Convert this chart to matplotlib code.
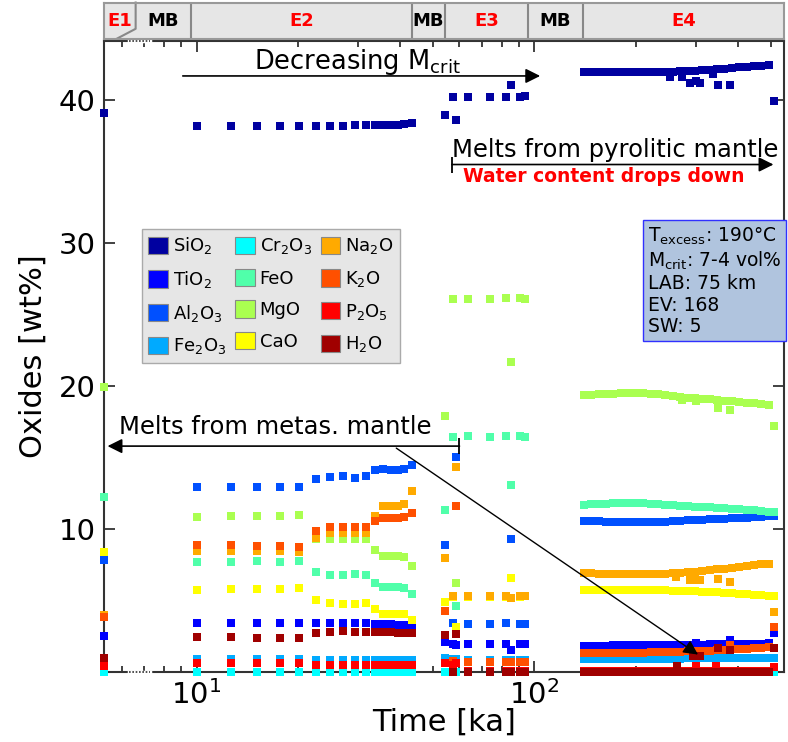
import matplotlib.pyplot as plt
from matplotlib.patches import Patch

# oxide names and colours (plot order = legend order)
oxides = ['SiO$_2$', 'TiO$_2$', 'Al$_2$O$_3$', 'Fe$_2$O$_3$', 'Cr$_2$O$_3$', 'FeO',
          'MgO', 'CaO', 'Na$_2$O', 'K$_2$O', 'P$_2$O$_5$', 'H$_2$O']
colors = ['#0000a0', '#0000ff', '#0050ff', '#00aaff', '#00ffff', '#50ffaa',
          '#aaff50', '#ffff00', '#ffaa00', '#ff5000', '#ff0000', '#a00000']

# episode bar on top
episodes = ['E1', 'MB', 'E2', 'MB', 'E3', 'MB', 'E4']
episode_edges = [5.32, 6.6, 9.63, 43.4, 54.2, 95.7, 139.0, 548.0]

# times [ka]: E1 (1), E2 (16), E3 (9)
t_early = [5.32,
           10.0, 12.6, 15.1, 17.6, 20.1, 22.6, 24.8, 27.2, 29.5, 31.7, 33.8, 35.7, 37.6, 39.4, 41.2, 43.4,
           54.5, 57.3, 58.6, 63.5, 74.0, 82.4, 85.3, 90.7, 93.8]
# times [ka]: E4 main sequence
t_late = [140, 147, 155, 163, 171, 180, 190, 200, 210, 221, 232, 244, 257,
          270, 284, 299, 314, 330, 347, 365, 384, 404, 425, 447, 470, 495]

sio2_early = [39.1,
              38.15, 38.15, 38.15, 38.15, 38.15, 38.15, 38.15, 38.15, 38.2, 38.2, 38.2, 38.25, 38.25, 38.25, 38.3, 38.35,
              38.9, 40.2, 38.55, 40.2, 40.2, 40.2, 41.0, 40.2, 40.25]
tio2_early = [2.5,
              3.41, 3.41, 3.41, 3.41, 3.41, 3.41, 3.41, 3.41, 3.41, 3.41, 3.33, 3.33, 3.33, 3.3, 3.3, 3.22,
              2.1, 1.95, 1.9, 1.95, 1.95, 1.97, 1.55, 1.95, 1.95]
al2o3_early = [7.8,
               12.92, 12.92, 12.9, 12.95, 12.95, 13.46, 13.62, 13.67, 13.56, 13.7, 14.1, 14.21, 14.15, 14.14, 14.21, 14.49,
               8.9, 3.4, 15.0, 3.35, 3.35, 3.4, 9.3, 3.33, 3.33]
fe2o3_early = [0.8,
               0.92, 0.92, 0.92, 0.92, 0.92, 0.85, 0.85, 0.85, 0.85, 0.85, 0.85, 0.85, 0.85, 0.85, 0.85, 0.85,
               1.0, 0.9, 0.9, 0.85, 0.85, 0.85, 0.85, 0.85, 0.85]
cr2o3_early = [0.0,
               0.0, 0.0, 0.0, 0.0, 0.0, 0.0, 0.0, 0.0, 0.0, 0.0, 0.0, 0.0, 0.0, 0.0, 0.0, 0.0,
               0.0, 0.0, 0.0, 0.0, 0.0, 0.0, 0.0, 0.0, 0.0]
feo_early = [12.2,
             7.68, 7.72, 7.77, 7.72, 7.79, 6.98, 6.8, 6.78, 6.82, 6.78, 6.23, 5.93, 5.93, 5.93, 5.88, 5.44,
             11.3, 16.45, 4.6, 16.5, 16.45, 16.5, 13.1, 16.5, 16.45]
mgo_early = [19.9,
             10.83, 10.87, 10.92, 10.92, 10.97, 9.31, 9.31, 9.31, 9.31, 9.27, 8.5, 8.08, 8.08, 8.08, 8.03, 7.38,
             17.9, 26.1, 6.25, 26.1, 26.1, 26.15, 21.7, 26.15, 26.1]
cao_early = [8.4,
             5.75, 5.77, 5.8, 5.8, 5.88, 5.0, 4.81, 4.76, 4.76, 4.81, 4.39, 4.06, 4.06, 4.06, 4.06, 3.64,
             4.9, 5.25, 3.15, 5.25, 5.25, 5.25, 6.6, 5.25, 5.3]
na2o_early = [4.0,
              8.45, 8.45, 8.45, 8.45, 8.4, 9.38, 9.7, 9.7, 9.7, 9.7, 10.87, 11.57, 11.57, 11.57, 11.71, 12.62,
              8.0, 5.3, 14.3, 5.3, 5.3, 5.3, 5.2, 5.28, 5.32]
k2o_early = [3.85,
             8.89, 8.85, 8.78, 8.78, 8.74, 9.85, 10.13, 10.13, 10.13, 10.13, 10.53, 10.76, 10.76, 10.76, 10.83, 11.1,
             4.3, 0.75, 11.6, 0.7, 0.7, 0.7, 0.7, 0.7, 0.7]
p2o5_early = [0.45,
              0.6, 0.6, 0.6, 0.6, 0.6, 0.5, 0.5, 0.5, 0.5, 0.5, 0.5, 0.5, 0.5, 0.5, 0.5, 0.5,
              0.6, 0.5, 0.6, 0.05, 0.05, 0.05, 0.05, 0.05, 0.05]
h2o_early = [1.0,
             2.43, 2.43, 2.4, 2.4, 2.4, 2.72, 2.79, 2.84, 2.79, 2.79, 2.79, 2.79, 2.79, 2.75, 2.72, 2.72,
             2.6, 0.02, 2.65, 0.02, 0.02, 0.02, 0.02, 0.02, 0.02]

sio2_late = [41.92, 41.92, 41.92, 41.92, 41.93, 41.93, 41.93, 41.94, 41.94, 41.95, 41.95, 41.96, 41.97,
             41.99, 42.01, 42.04, 42.07, 42.1, 42.14, 42.18, 42.22, 42.26, 42.3, 42.34, 42.38, 42.41]
tio2_late = [1.85, 1.85, 1.85, 1.85, 1.86, 1.86, 1.86, 1.87, 1.87, 1.87, 1.88, 1.88, 1.89,
             1.9, 1.9, 1.91, 1.92, 1.93, 1.94, 1.95, 1.96, 1.96, 1.97, 1.98, 1.99, 2.0]
al2o3_late = [10.56, 10.55, 10.53, 10.52, 10.51, 10.5, 10.49, 10.48, 10.48, 10.49, 10.5, 10.52, 10.55,
              10.57, 10.6, 10.63, 10.65, 10.68, 10.7, 10.73, 10.75, 10.77, 10.79, 10.82, 10.85, 10.87]
fe2o3_late = [0.92, 0.92, 0.92, 0.92, 0.92, 0.93, 0.93, 0.93, 0.93, 0.93, 0.94, 0.94, 0.94,
              0.94, 0.95, 0.95, 0.95, 0.95, 0.96, 0.96, 0.96, 0.96, 0.97, 0.97, 0.97, 0.97]
cr2o3_late = [0.0, 0.0, 0.0, 0.0, 0.0, 0.0, 0.0, 0.0, 0.0, 0.0, 0.0, 0.0, 0.0,
              0.0, 0.0, 0.0, 0.0, 0.0, 0.0, 0.0, 0.0, 0.0, 0.0, 0.0, 0.0, 0.0]
feo_late = [11.7, 11.72, 11.74, 11.76, 11.78, 11.79, 11.8, 11.8, 11.78, 11.75, 11.72, 11.68, 11.65,
            11.62, 11.59, 11.56, 11.53, 11.5, 11.47, 11.44, 11.41, 11.37, 11.33, 11.29, 11.25, 11.2]
mgo_late = [19.33, 19.36, 19.4, 19.43, 19.46, 19.48, 19.5, 19.5, 19.49, 19.46, 19.41, 19.35, 19.28,
            19.22, 19.18, 19.14, 19.1, 19.06, 19.01, 18.97, 18.93, 18.88, 18.83, 18.78, 18.72, 18.67]
cao_late = [5.7, 5.71, 5.72, 5.73, 5.73, 5.74, 5.74, 5.74, 5.74, 5.73, 5.72, 5.71, 5.69,
            5.68, 5.66, 5.65, 5.62, 5.59, 5.56, 5.53, 5.5, 5.47, 5.45, 5.41, 5.37, 5.33]
na2o_late = [6.92, 6.9, 6.88, 6.86, 6.85, 6.83, 6.82, 6.82, 6.83, 6.84, 6.86, 6.88, 6.9,
             6.92, 6.97, 7.02, 7.07, 7.12, 7.17, 7.22, 7.27, 7.33, 7.39, 7.46, 7.52, 7.58]
k2o_late = [1.32, 1.32, 1.33, 1.33, 1.34, 1.34, 1.35, 1.36, 1.36, 1.37, 1.38, 1.39, 1.4,
            1.42, 1.44, 1.46, 1.48, 1.5, 1.53, 1.55, 1.58, 1.61, 1.64, 1.67, 1.7, 1.73]
p2o5_late = [0.05, 0.05, 0.05, 0.05, 0.05, 0.05, 0.05, 0.05, 0.05, 0.05, 0.05, 0.05, 0.05,
             0.05, 0.05, 0.05, 0.05, 0.05, 0.05, 0.05, 0.05, 0.05, 0.05, 0.05, 0.05, 0.05]
h2o_late = [0.02, 0.02, 0.02, 0.02, 0.02, 0.02, 0.02, 0.02, 0.02, 0.02, 0.02, 0.02, 0.02,
            0.02, 0.02, 0.02, 0.02, 0.02, 0.02, 0.02, 0.02, 0.02, 0.02, 0.02, 0.02, 0.02]

# off-trend E4 melts and the last sample, (time, value)
sio2_extra = [(252, 41.62), (274, 41.62), (289, 41.2), (300, 41.3), (309, 41.2),
              (337, 41.82), (349, 41.06), (380, 41.06), (513, 39.9)]
tio2_extra = [(300, 2.05), (380, 2.22), (513, 2.74)]
al2o3_extra = [(513, 10.9)]
fe2o3_extra = [(513, 0.95)]
cr2o3_extra = [(513, 0.0)]
feo_extra = [(513, 11.15)]
mgo_extra = [(274, 19.0), (300, 18.95), (349, 18.45), (380, 18.33), (513, 17.2)]
cao_extra = [(513, 5.3)]
na2o_extra = [(262, 6.63), (289, 6.45), (300, 6.4), (309, 6.45), (349, 6.5), (380, 6.28), (513, 4.18)]
k2o_extra = [(380, 1.9), (513, 3.13)]
p2o5_extra = [(300, 0.4), (345, 0.4), (513, 0.38)]
h2o_extra = [(265, 0.45), (295, 1.1), (309, 1.15), (350, 1.67), (380, 1.55), (513, 1.67)]

early = [sio2_early, tio2_early, al2o3_early, fe2o3_early, cr2o3_early, feo_early,
         mgo_early, cao_early, na2o_early, k2o_early, p2o5_early, h2o_early]
late = [sio2_late, tio2_late, al2o3_late, fe2o3_late, cr2o3_late, feo_late,
        mgo_late, cao_late, na2o_late, k2o_late, p2o5_late, h2o_late]
extra = [sio2_extra, tio2_extra, al2o3_extra, fe2o3_extra, cr2o3_extra, feo_extra,
         mgo_extra, cao_extra, na2o_extra, k2o_extra, p2o5_extra, h2o_extra]

fig = plt.figure(figsize=(7.88, 7.42), dpi=100)
ax = fig.add_axes([0.132, 0.0943, 0.8629, 0.8504])
bar = fig.add_axes([0.132, 0.9481, 0.8629, 0.0485])

mk = dict(marker='s', ms=6, mew=0, ls='none', clip_on=False, zorder=3)
for i in range(len(oxides)):
    ax.plot(t_early, early[i], color=colors[i], **mk)
    ax.plot(t_late, late[i], color=colors[i], **mk)
    ax.plot([p[0] for p in extra[i]], [p[1] for p in extra[i]], color=colors[i], **mk)

ax.set_xscale('log')
ax.set_xlim(episode_edges[0], episode_edges[-1])
ax.set_ylim(0, 44.1)
ax.set_yticks([10, 20, 30, 40])
ax.tick_params(which='both', direction='in', top=True, right=True, width=1.3, colors='#333333',
               labelcolor='black', labelsize=21)
ax.tick_params(which='major', length=8, pad=6)
ax.tick_params(which='minor', length=4.5)
for s in ax.spines.values():
    s.set_linewidth(1.5)
    s.set_color('#333333')
ax.set_xlabel('Time [ka]', fontsize=22, labelpad=-2)
ax.set_ylabel('Oxides [wt%]', fontsize=22, labelpad=8)

# dotted break on the time axis between E1 and MB
for yy in (0, 1):
    ax.plot([6.3, 7.3], [yy, yy], transform=ax.get_xaxis_transform(), color='white', lw=2.5,
            clip_on=False, zorder=4)
    ax.plot([6.3, 7.3], [yy, yy], transform=ax.get_xaxis_transform(), color='#333333', lw=1.2,
            ls=(0, (1, 1)), clip_on=False, zorder=4)

# annotations
arr = dict(arrowstyle='-|>', color='black', lw=1.2, mutation_scale=22, shrinkA=0, shrinkB=0)
ax.annotate('', xy=(104, 41.66), xytext=(9.1, 41.66), arrowprops=arr, zorder=5)
ax.text(30, 42.13, 'Decreasing M$_{\\mathrm{crit}}$', fontsize=18.5, ha='center', va='baseline')

ax.annotate('', xy=(510, 35.47), xytext=(57.0, 35.47), arrowprops=arr, zorder=5)
ax.plot([57.0], [35.47], marker='|', ms=12, mew=1.3, color='black', clip_on=False, zorder=5)
ax.text(57.0, 36.0, 'Melts from pyrolitic mantle', fontsize=17.5, ha='left', va='baseline')
ax.text(160, 34.6, 'Water content drops down', fontsize=13.5, color='#ff0000',
        fontweight='bold', ha='center', va='center')

ax.annotate('', xy=(5.45, 15.79), xytext=(60.0, 15.79), arrowprops=arr, zorder=5)
ax.plot([60.0], [15.79], marker='|', ms=12, mew=1.3, color='black', clip_on=False, zorder=5)
ax.text(5.9, 16.66, 'Melts from metas. mantle', fontsize=17.5, ha='left', va='baseline')

ax.annotate('', xy=(305, 1.22), xytext=(39.0, 15.65),
            arrowprops=dict(arrowstyle='-|>', color='black', lw=1.0, mutation_scale=22,
                            shrinkA=0, shrinkB=0), zorder=5)

handles = [Patch(facecolor=c, edgecolor='#888888', lw=0.8) for c in colors]
ax.legend(handles, oxides, ncol=3, loc='upper left', bbox_to_anchor=(0.056, 0.702),
          borderaxespad=0, fontsize=13, frameon=True, fancybox=False, facecolor='#e6e6e6',
          edgecolor='#aaaaaa', framealpha=1, handlelength=1.1, handleheight=1.1,
          handletextpad=0.25, columnspacing=0.5, labelspacing=0.7, borderpad=0.35)

info = ('T$_{\\mathrm{excess}}$: 190°C\nM$_{\\mathrm{crit}}$: 7-4 vol%\n'
        'LAB: 75 km\nEV: 168\nSW: 5')
ax.text(0.8, 0.707, info, transform=ax.transAxes, fontsize=13.5, ha='left', va='top',
        linespacing=1.15, zorder=6,
        bbox=dict(boxstyle='square,pad=0.25', facecolor='#b0c4de', edgecolor='#3030ff', lw=1))

# episode bar
bar.set_xscale('log')
bar.set_xlim(episode_edges[0], episode_edges[-1])
bar.set_ylim(0, 1)
bar.set_facecolor('#e6e6e6')
bar.set_xticks([])
bar.set_yticks([])
bar.minorticks_off()
for s in bar.spines.values():
    s.set_color('#999999')
    s.set_linewidth(1.5)
for k, b in enumerate(episode_edges[1:-1]):
    if k == 0:
        bar.plot([b, b, 5.82], [1, 0.27, 0], color='#888888', lw=1.5, clip_on=False)
    else:
        bar.axvline(b, color='#888888', lw=1.5)
for k, name in enumerate(episodes):
    xm = (episode_edges[k] * episode_edges[k + 1]) ** 0.5
    bar.text(xm, 0.5, name, ha='center', va='center', fontsize=13, fontweight='bold',
             color='red' if name.startswith('E') else 'black')

fig.savefig('out.png', dpi=100)
